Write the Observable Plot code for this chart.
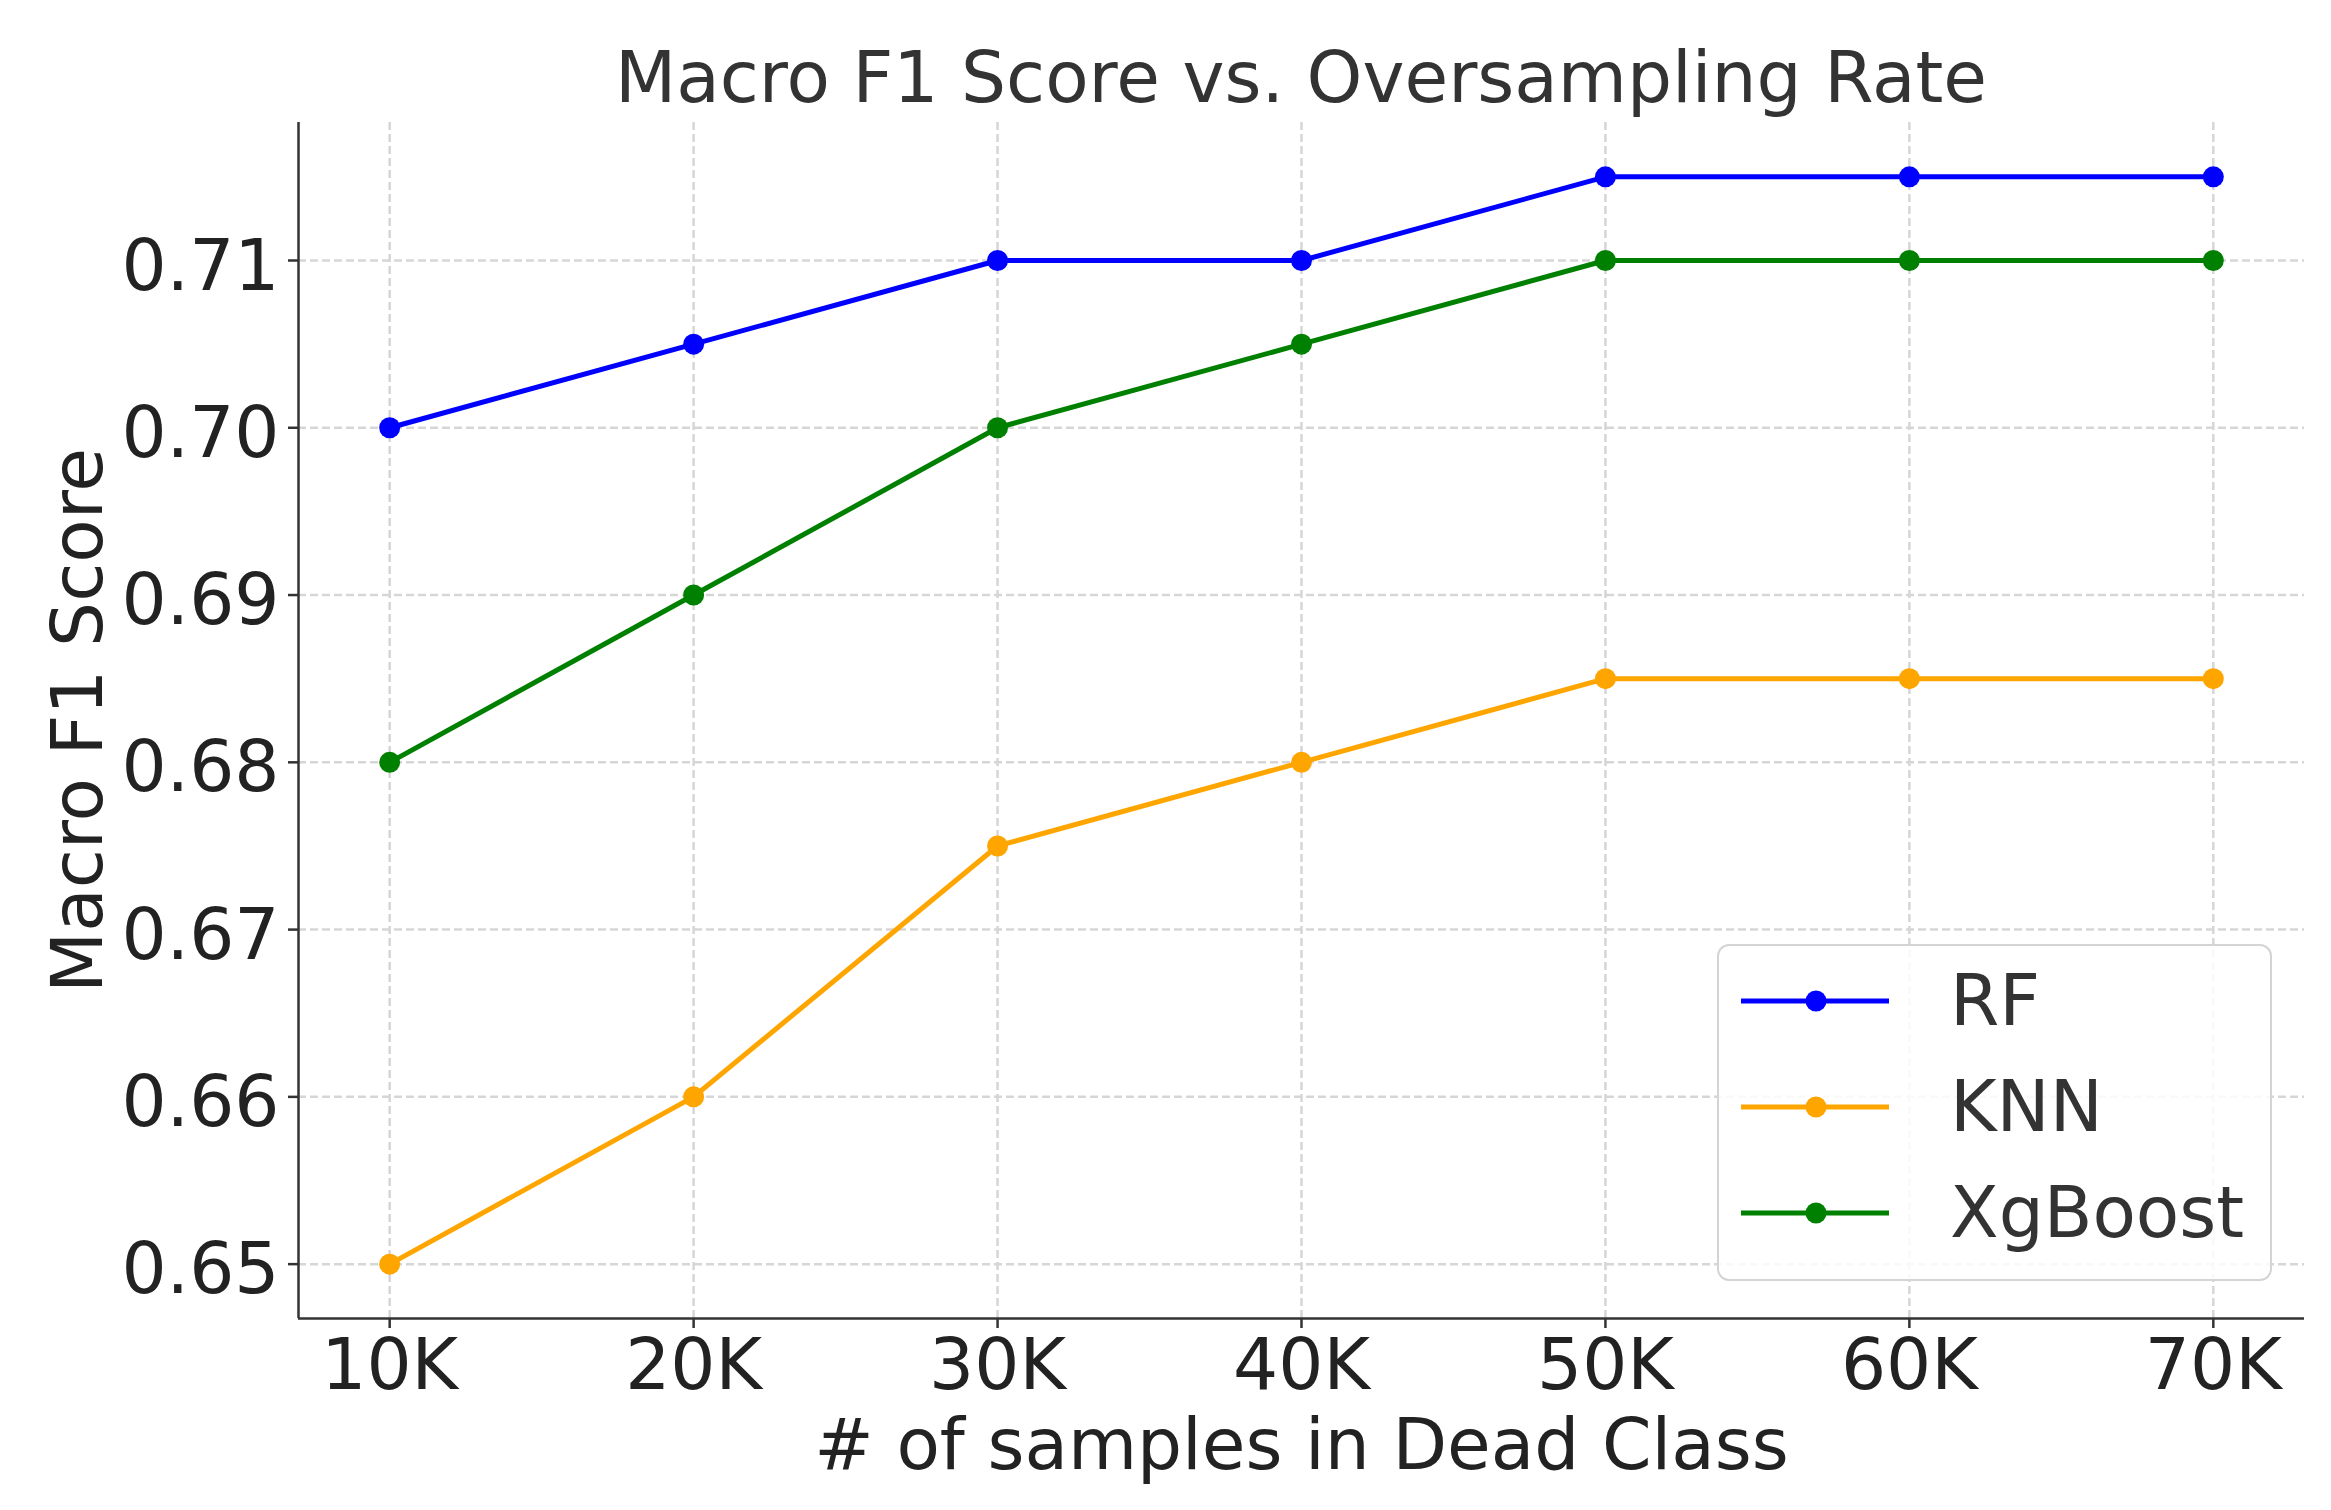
<!DOCTYPE html>
<html>
<head>
<meta charset="utf-8">
<script src="https://cdn.jsdelivr.net/npm/d3@7"></script>
<script src="https://cdn.jsdelivr.net/npm/@observablehq/plot@0.6"></script>
<style>
  html, body { margin: 0; padding: 0; background: #fff; }
  #wrap { position: relative; width: 2331px; height: 1510px; font-family: "DejaVu Sans", sans-serif; }
  #title { box-sizing: border-box; width: 2331px; height: 122px; padding: 42px 27px 0 298px;
           font-size: 71px; line-height: 71px; text-align: center; color: #333; white-space: nowrap; }
  #legend { position: absolute; left: 1717px; top: 944px; width: 555px; height: 337px; box-sizing: border-box;
            border: 2px solid #d4d4d4; border-radius: 12px; background: rgba(255,255,255,0.85); padding-top: 2px; }
  .row { height: 106px; display: flex; align-items: center; }
  .row svg { margin-left: 22px; display: block; }
  .row span { margin-left: 61px; font-size: 71px; line-height: 106px; color: #333; }
  svg { display: block; }
</style>
</head>
<body>
<div id="wrap">
  <div id="title">Macro F1 Score vs. Oversampling Rate</div>
  <div id="chart"></div>
  <div id="legend"></div>
</div>
<script>
// Data (x in thousands of samples)
const samples = [10, 20, 30, 40, 50, 60, 70];
const rf      = [0.700, 0.705, 0.710, 0.710, 0.715, 0.715, 0.715];
const knn     = [0.650, 0.660, 0.675, 0.680, 0.685, 0.685, 0.685];
const xgboost = [0.680, 0.690, 0.700, 0.705, 0.710, 0.710, 0.710];
const seriesNames = ["RF", "KNN", "XgBoost"];
const yTicks = [0.65, 0.66, 0.67, 0.68, 0.69, 0.70, 0.71];
const xTickLabels = ["10K", "20K", "30K", "40K", "50K", "60K", "70K"];

const colors = ["#0000ff", "#ffa500", "#008000"];
const seriesValues = [rf, knn, xgboost];

const rows = [];
seriesNames.forEach((name, i) => {
  samples.forEach((s, j) => rows.push({series: name, x: s, y: seriesValues[i][j]}));
});

function pad(ext) { const r = ext[1] - ext[0]; return [ext[0] - 0.05 * r, ext[1] + 0.05 * r]; }
const xDomain = pad(d3.extent(samples));
const yDomain = pad(d3.extent(rows, d => d.y));

const FS = 71;
const axisColor = "#333";
const textColor = "#222";
const gridStyle = {stroke: "#d6d6d6", strokeOpacity: 1, strokeWidth: 2.5, strokeDasharray: "8,4"};

const chart = Plot.plot({
  width: 2331,
  height: 1388,
  marginLeft: 298,
  marginRight: 27,
  marginTop: 0,
  marginBottom: 192,
  style: {fontFamily: "DejaVu Sans, sans-serif", background: "white", overflow: "visible"},
  x: {type: "linear", domain: xDomain},
  y: {type: "linear", domain: yDomain},
  color: {domain: seriesNames, range: colors},
  marks: [
    Plot.gridX(samples, gridStyle),
    Plot.gridY(yTicks, gridStyle),
    Plot.ruleX([xDomain[0]], {stroke: axisColor, strokeWidth: 2.5}),
    Plot.ruleY([yDomain[0]], {stroke: axisColor, strokeWidth: 2.5}),
    Plot.axisX(samples, {tickSize: 10, tickFormat: () => "", stroke: axisColor, strokeWidth: 2.5, label: null}),
    Plot.axisY(yTicks, {tickSize: 10, tickFormat: () => "", stroke: axisColor, strokeWidth: 2.5, label: null}),
    Plot.text(samples, {x: d => d, frameAnchor: "bottom", lineAnchor: "bottom", dy: 70,
      text: (d, i) => xTickLabels[i], fontSize: FS, fill: textColor}),
    Plot.text(yTicks, {y: d => d, frameAnchor: "left", textAnchor: "end", lineAnchor: "bottom", dx: -19, dy: 29,
      text: d => d.toFixed(2), fontSize: FS, fill: textColor}),
    Plot.text(["# of samples in Dead Class"], {frameAnchor: "bottom", lineAnchor: "bottom", dy: 150,
      text: d => d, fontSize: FS, fill: textColor}),
    Plot.text(["Macro F1 Score"], {frameAnchor: "left", textAnchor: "middle", lineAnchor: "bottom", rotate: -90, dx: -197,
      text: d => d, fontSize: FS, fill: textColor}),
    Plot.line(rows, {x: "x", y: "y", z: "series", stroke: "series", strokeWidth: 5}),
    Plot.dot(rows, {x: "x", y: "y", fill: "series", r: 10.5, stroke: "none"})
  ]
});
document.getElementById("chart").appendChild(chart);

// Legend
const legend = document.getElementById("legend");
seriesNames.forEach((name, i) => {
  const row = document.createElement("div");
  row.className = "row";
  row.innerHTML = `<svg width="148" height="30" viewBox="0 0 148 30">
      <line x1="0" x2="148" y1="15" y2="15" stroke="${colors[i]}" stroke-width="5"/>
      <circle cx="75" cy="15" r="10.5" fill="${colors[i]}"/>
    </svg><span>${name}</span>`;
  legend.appendChild(row);
});
</script>
</body>
</html>
